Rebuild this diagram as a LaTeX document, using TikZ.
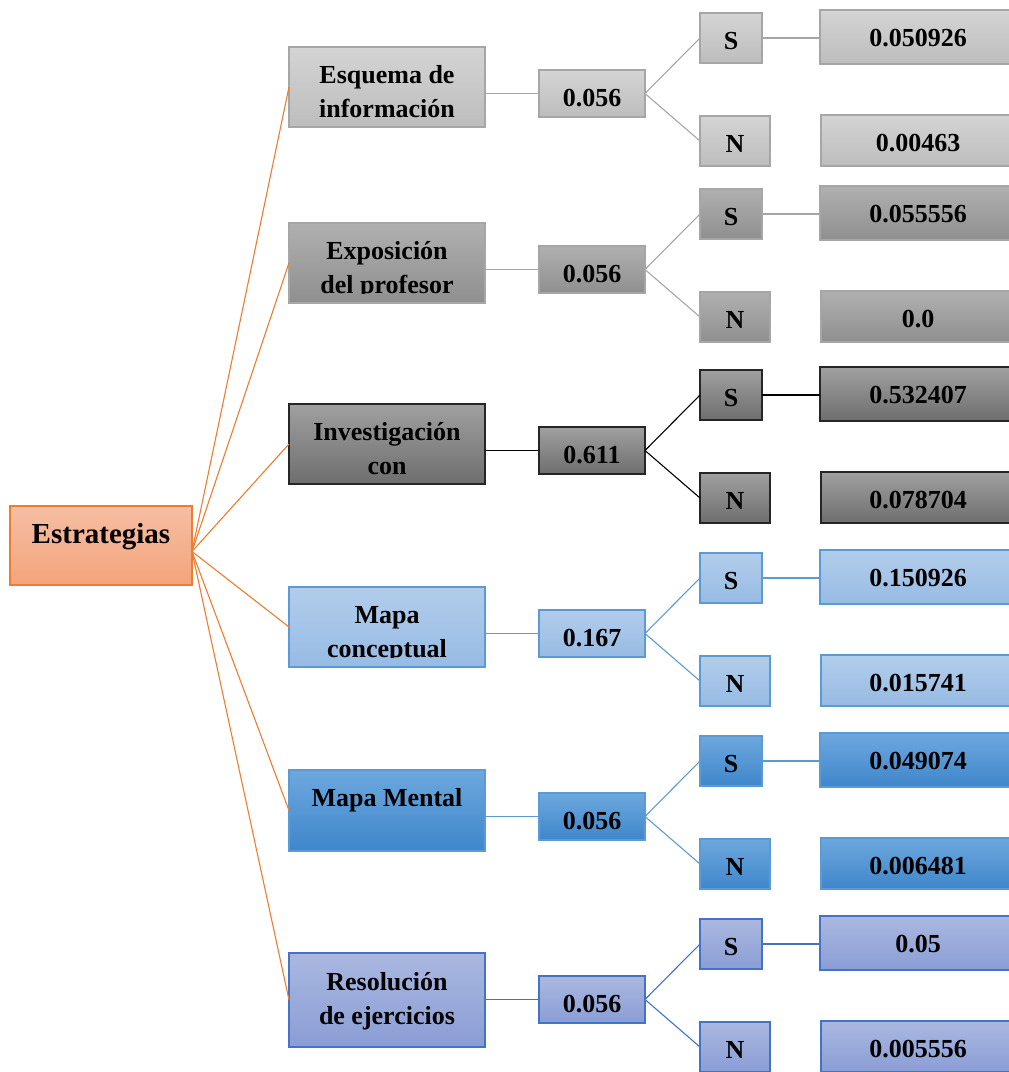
\documentclass[tikz,border=0pt]{standalone}
\usepackage{fontspec}
\setmainfont{Liberation Serif}
\usepackage{tikz}
\definecolor{NaranjaTop}{HTML}{F6BEA3}
\definecolor{NaranjaBot}{HTML}{F4A47C}
\definecolor{NaranjaBorde}{HTML}{ED7D31}
\definecolor{GrisATop}{HTML}{D4D4D4}
\definecolor{GrisABot}{HTML}{BDBDBD}
\definecolor{GrisBTop}{HTML}{B0B0B0}
\definecolor{GrisBBot}{HTML}{8F8F8F}
\definecolor{GrisBorde}{HTML}{A6A6A6}
\definecolor{GrisCTop}{HTML}{A0A0A0}
\definecolor{GrisCBot}{HTML}{6E6E6E}
\definecolor{GrisCBorde}{HTML}{262626}
\definecolor{AzulATop}{HTML}{B2CDEB}
\definecolor{AzulABot}{HTML}{97BBE4}
\definecolor{AzulBTop}{HTML}{6DA8DE}
\definecolor{AzulBBot}{HTML}{3F86CB}
\definecolor{AzulBorde}{HTML}{5B9BD5}
\definecolor{AzulCTop}{HTML}{AAB8E0}
\definecolor{AzulCBot}{HTML}{8A9DD5}
\definecolor{AzulCBorde}{HTML}{4472C4}

\begin{document}
\begin{tikzpicture}[
    x=1pt, y=-1pt,
    caja/.style={rectangle, line width=1.3pt, inner sep=0pt, outer sep=0pt, anchor=north west},
    txt/.style={font=\fontsize{26}{34}\selectfont\bfseries, align=center, inner sep=0pt, anchor=base},
    conector/.style={line width=1.1pt},
    raiz/.style={top color=NaranjaTop, bottom color=NaranjaBot, draw=NaranjaBorde},
    fila1/.style={top color=GrisATop, bottom color=GrisABot, draw=GrisBorde},
    fila2/.style={top color=GrisBTop, bottom color=GrisBBot, draw=GrisBorde},
    fila3/.style={top color=GrisCTop, bottom color=GrisCBot, draw=GrisCBorde},
    fila4/.style={top color=AzulATop, bottom color=AzulABot, draw=AzulBorde},
    fila5/.style={top color=AzulBTop, bottom color=AzulBBot, draw=AzulBorde},
    fila6/.style={top color=AzulCTop, bottom color=AzulCBot, draw=AzulCBorde}
]
    \useasboundingbox (0,0) rectangle (1009,1072);
    \node[caja, raiz, minimum width=182pt, minimum height=79pt] (estr) at (10,506) {};
    \node[txt, font=\fontsize{29}{34}\selectfont\bfseries] (estr-t) at ([yshift=-37pt]estr.north) {Estrategias};
    \coordinate (estr-o) at ([yshift=-6pt]estr.east);
    % \b = baseline of the last line, below the top of the box
    \foreach \y/\h/\f/\lc/\b/\lab/\pr/\vs/\vn [count=\k] in {
        47/80/fila1/GrisBorde/70/{Esquema de\\información}/0.056/0.050926/0.00463,
        223/80/fila2/GrisBorde/70/{Exposición\\del profesor}/0.056/0.055556/0.0,
        404/80/fila3/black/70/{Investigación\\con}/0.611/0.532407/0.078704,
        587/80/fila4/AzulBorde/70/{Mapa\\conceptual}/0.167/0.150926/0.015741,
        770/81/fila5/AzulBorde/36/{Mapa Mental}/0.056/0.049074/0.006481,
        953/94/fila6/AzulCBorde/71/{Resolución\\de ejercicios}/0.056/0.05/0.005556}{
        % estrategia, con el texto recortado por el cuadro
        \node[caja, \f, minimum width=196pt, minimum height=\h pt] (e\k) at (289,\y) {};
        \begin{scope}
            \clip (e\k.north west) rectangle ([yshift=10pt]e\k.south east);
            \node[txt] (e\k-t) at ([yshift=-\b pt]e\k.north) {\lab};
        \end{scope}
        % probabilidad y ramas S / N
        \node[caja, \f, minimum width=106pt, minimum height=47pt] (p\k) at (539,\y+23) {};
        \node[txt] (p\k-t) at ([yshift=-36pt]p\k.north) {\pr};
        \node[caja, \f, minimum width=62pt, minimum height=50pt] (s\k) at (700,\y-34) {};
        \node[txt] (s\k-t) at ([yshift=-36pt]s\k.north) {S};
        \node[caja, \f, minimum width=70pt, minimum height=50pt] (n\k) at (700,\y+69) {};
        \node[txt] (n\k-t) at ([yshift=-36pt]n\k.north) {N};
        \node[caja, \f, minimum width=230pt, minimum height=54pt] (vs\k) at (820,\y-37) {};
        \node[txt] (vs\k-t) at ([yshift=-36pt]vs\k.north -| 918,0) {\vs};
        \node[caja, \f, minimum width=230pt, minimum height=51pt] (vn\k) at (821,\y+68) {};
        \node[txt] (vn\k-t) at ([yshift=-36pt]vn\k.north -| 918,0) {\vn};
        \draw[conector, NaranjaBorde] (estr-o) -- (e\k.west);
        \draw[conector, \lc] (p\k.west) -- (p\k.west -| e\k.east);
        \draw[conector, \lc] (p\k.east) -- (s\k.west);
        \draw[conector, \lc] (p\k.east) -- (n\k.west);
        \draw[conector, \lc] (s\k.east) -- (s\k.east -| vs\k.west);
    }
\end{tikzpicture}
\end{document}
